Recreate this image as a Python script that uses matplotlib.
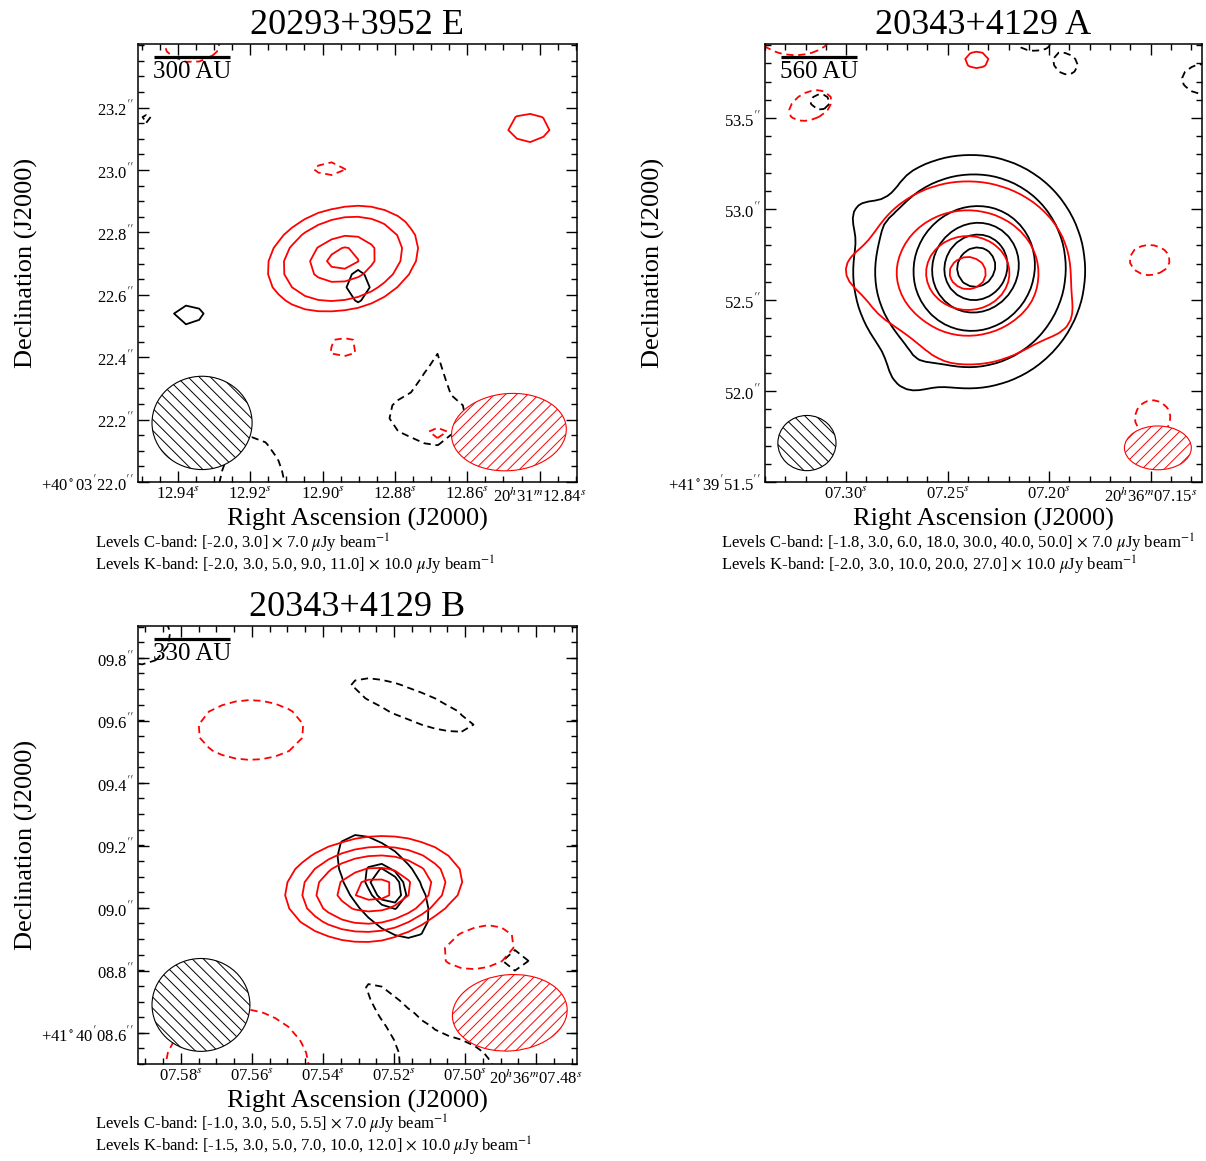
import numpy as np
import matplotlib
matplotlib.use('Agg')
import matplotlib.pyplot as plt
from matplotlib.patches import Ellipse

plt.rcParams['font.family'] = ['Liberation Serif', 'DejaVu Serif']
plt.rcParams['mathtext.fontset'] = 'stix'
plt.rcParams['hatch.linewidth'] = 0.7

# ---------------- data ----------------
# components: RA (s), Dec (arcsec), peak (x rms), sigma_x, sigma_y (arcsec), PA (deg)

# 20293+3952 E
E_title = '20293+3952 E'
E_scale = '300 AU'
E_C_levels = [-2.0, 3.0]
E_C_rms = 7.0
E_K_levels = [-2.0, 3.0, 5.0, 9.0, 11.0]
E_K_rms = 10.0
E_C_comps = [
    (12.9366, 22.5352, 3.6, 0.095, 0.068, 0),
    (12.8902, 22.6282, 3.6, 0.066, 0.090, 0),
    (12.9485, 23.1570, -2.4, 0.045, 0.035, 0),
    (12.9195, 21.9263, -2.6, 0.153, 0.300, 0),
    (12.8709, 22.2147, -2.8, 0.147, 0.098, 0),
    (12.8695, 22.3590, -2.3, 0.020, 0.130, 0),
]
E_K_comps = [
    (12.8944, 22.7147, 11.8, 0.146, 0.099, 15),
    (12.8430, 23.1346, 4.0, 0.089, 0.061, 0),
    (12.8979, 23.0000, -2.8, 0.070, 0.040, 0),
    (12.8944, 22.4391, -2.9, 0.075, 0.045, 0),
    (12.9361, 23.4166, -2.6, 0.130, 0.100, 0),
    (12.8681, 22.1538, -2.5, 0.054, 0.035, 0),
]
E_ra_lim = (12.9510, 12.8297)
E_dec_lim = (22.0, 23.404)
E_dec_deg = 40.056
E_ra_ticks = [12.94, 12.92, 12.90, 12.88, 12.86, 12.84]
E_dec_ticks = [22.0, 22.2, 22.4, 22.6, 22.8, 23.0, 23.2]
E_ra_prefix = '20$^h$31$^m$'
E_dec_prefix = "+40$^\\circ$03$'$"

# 20343+4129 A
A_title = '20343+4129 A'
A_scale = '560 AU'
A_C_levels = [-1.8, 3.0, 6.0, 18.0, 30.0, 40.0, 50.0]
A_C_rms = 7.0
A_K_levels = [-2.0, 3.0, 10.0, 20.0, 27.0]
A_K_rms = 10.0
A_C_comps = [
    (7.2352, 52.6869, 36.6, 0.170, 0.185, -30),
    (7.2396, 52.6540, 20.9, 0.323, 0.323, 0),
    (7.2693, 52.0880, 2.0, 0.090, 0.090, 0),
    (7.2903, 52.9837, 1.8, 0.080, 0.080, 0),
    (7.2854, 53.1320, -1.5, 0.080, 0.080, 0),
    (7.3127, 53.5881, -2.3, 0.078, 0.063, 0),
    (7.2084, 53.9398, -2.3, 0.140, 0.100, 0),
    (7.1909, 53.7859, -2.3, 0.070, 0.060, 0),
    (7.1227, 53.7145, -2.3, 0.190, 0.120, 0),
]
A_K_comps = [
    (7.2401, 52.6485, 29.0, 0.267, 0.236, 0),
    (7.2766, 52.1980, -3.0, 0.120, 0.120, 0),
    (7.2961, 52.6650, 2.0, 0.100, 0.100, 0),
    (7.1938, 52.3900, 1.5, 0.100, 0.100, 0),
    (7.2357, 53.8189, 3.6, 0.109, 0.077, 0),
    (7.3253, 53.9837, -2.6, 0.300, 0.190, 0),
    (7.3180, 53.5551, -2.6, 0.143, 0.083, 20),
    (7.1510, 52.7199, -2.6, 0.162, 0.118, 0),
    (7.1490, 51.8517, -2.6, 0.136, 0.136, 0),
]
A_ra_lim = (7.3375, 7.1247)
A_dec_lim = (51.5, 53.907)
A_dec_deg = 41.664
A_ra_ticks = [7.30, 7.25, 7.20, 7.15]
A_dec_ticks = [51.5, 52.0, 52.5, 53.0, 53.5]
A_ra_prefix = '20$^h$36$^m$'
A_dec_prefix = "+41$^\\circ$39$'$"

# 20343+4129 B
B_title = '20343+4129 B'
B_scale = '330 AU'
B_C_levels = [-1.0, 3.0, 5.0, 5.5]
B_C_rms = 7.0
B_K_levels = [-1.5, 3.0, 5.0, 7.0, 10.0, 12.0]
B_K_rms = 10.0
B_C_comps = [
    (7.5231, 9.0672, 4.6, 0.213, 0.105, -52),
    (7.5217, 9.0736, 2.0, 0.060, 0.045, -52),
    (7.5149, 9.6496, -1.5, 0.237, 0.054, -22),
    (7.5637, 9.6208, -1.15, 0.015, 0.036, 0),
    (7.4862, 8.8336, -1.5, 0.049, 0.041, 0),
    (7.5048, 8.4336, -1.5, 0.175, 0.195, 0),
    (7.5225, 8.7056, -1.4, 0.135, 0.040, -50),
    (7.5915, 9.8736, -1.5, 0.105, 0.105, 0),
]
B_K_comps = [
    (7.5256, 9.0576, 13.0, 0.167, 0.099, 5),
    (7.5603, 9.5696, -2.0, 0.221, 0.127, 0),
    (7.4986, 8.8944, -2.7, 0.133, 0.084, 0),
    (7.5642, 8.4816, -2.0, 0.300, 0.260, 0),
]
B_ra_lim = (7.5921, 7.4685)
B_dec_lim = (8.5008, 9.9024)
B_dec_deg = 41.669
B_ra_ticks = [7.58, 7.56, 7.54, 7.52, 7.50, 7.48]
B_dec_ticks = [8.6, 8.8, 9.0, 9.2, 9.4, 9.6, 9.8]
B_ra_prefix = '20$^h$36$^m$'
B_dec_prefix = "+41$^\\circ$40$'$"


def make_map(comps, ra_lim, dec_lim, dec_deg, step):
    c = 15 * np.cos(np.radians(dec_deg))
    ra = np.arange(ra_lim[1] - 0.02, ra_lim[0] + 0.02, step / c)
    dec = np.arange(dec_lim[0] - 0.3, dec_lim[1] + 0.3, step)
    RA, DEC = np.meshgrid(ra, dec)
    z = np.zeros_like(RA)
    for ra0, de0, amp, sx, sy, pa in comps:
        u = (ra0 - RA) * c
        v = DEC - de0
        t = np.radians(pa)
        a = u * np.cos(t) + v * np.sin(t)
        b = -u * np.sin(t) + v * np.cos(t)
        z += amp * np.exp(-0.5 * ((a / sx) ** 2 + (b / sy) ** 2))
    return RA, DEC, z


def level_text(band, levels, rms):
    s = ', '.join('%.1f' % l for l in levels)
    return 'Levels %s: [%s] $\\times$ %.1f $\\mu$Jy beam$^{-1}$' % (band, s, rms)


def panel(rect, title, scale, C_comps, C_levels, C_rms, K_comps, K_levels, K_rms,
          ra_lim, dec_lim, dec_deg, ra_ticks, dec_ticks, ra_prefix, dec_prefix,
          ra_minor, dec_minor, step, beamC, beamK, txt_xy):
    ax = fig.add_axes(rect)
    for comps, levels, rms, col in [(C_comps, C_levels, C_rms, 'black'),
                                    (K_comps, K_levels, K_rms, 'red')]:
        RA, DEC, z = make_map(comps, ra_lim, dec_lim, dec_deg, step)
        ls = [(0, (4, 2.6)) if l < 0 else 'solid' for l in levels]
        ax.contour(RA, DEC, z * rms, levels=np.array(levels) * rms,
                   colors=col, linewidths=1.3, linestyles=ls, zorder=2)
    ax.set_xlim(ra_lim)
    ax.set_ylim(dec_lim)

    # beams
    ax.add_patch(Ellipse(beamC[:2], beamC[2], beamC[3], angle=beamC[4],
                         transform=ax.transAxes, facecolor='white',
                         edgecolor='black', hatch='\\\\\\', lw=0.8, zorder=4))
    ax.add_patch(Ellipse(beamK[:2], beamK[2], beamK[3], angle=beamK[4],
                         transform=ax.transAxes, facecolor='white',
                         edgecolor='red', hatch='///', lw=0.8, zorder=4))

    # scale bar
    ax.plot([0.036, 0.21], [0.970, 0.970], color='black', lw=2.3,
            transform=ax.transAxes, zorder=5, solid_capstyle='butt')
    ax.text(0.123, 0.936, scale, transform=ax.transAxes, ha='center',
            va='center', fontsize=18, zorder=5)

    # ticks
    xl = ['%05.2f$^s$' % t for t in ra_ticks]
    xl[-1] = ra_prefix + xl[-1]
    yl = ["%04.1f$''$" % t for t in dec_ticks]
    yl[0] = dec_prefix + yl[0]
    ax.set_xticks(ra_ticks)
    ax.set_xticklabels(xl)
    ax.set_yticks(dec_ticks)
    ax.set_yticklabels(yl)
    ax.set_xticks(np.arange(ra_lim[1], ra_lim[0], ra_minor) // ra_minor * ra_minor + ra_minor, minor=True)
    ax.set_yticks(np.arange(dec_lim[0], dec_lim[1], dec_minor), minor=True)
    ax.tick_params(which='both', direction='in', top=True, right=True,
                   labelsize=12, pad=3, width=1.0)
    ax.tick_params(which='major', length=8)
    ax.tick_params(which='minor', length=4)
    for sp in ax.spines.values():
        sp.set_linewidth(1.1)

    ax.set_title(title, fontsize=26, pad=7)
    ax.set_xlabel('Right Ascension (J2000)', fontsize=19)
    ax.set_ylabel('Declination (J2000)', fontsize=19)
    ax.xaxis.set_label_coords(0.5, -0.058)
    ax.yaxis.set_label_coords(-0.228, 0.5)

    fig.text(txt_xy[0], txt_xy[1], level_text('C-band', C_levels, C_rms),
             fontsize=12, va='center')
    fig.text(txt_xy[0], txt_xy[2], level_text('K-band', K_levels, K_rms),
             fontsize=12, va='center')
    return ax


fig = plt.figure(figsize=(12.06, 11.61), dpi=100)

panel([0.1144, 0.5848, 0.3640, 0.3773], E_title, E_scale,
      E_C_comps, E_C_levels, E_C_rms, E_K_comps, E_K_levels, E_K_rms,
      E_ra_lim, E_dec_lim, E_dec_deg, E_ra_ticks, E_dec_ticks,
      E_ra_prefix, E_dec_prefix, 0.005, 0.05, 0.042,
      (0.146, 0.135, 0.228, 0.213, 0), (0.845, 0.114, 0.262, 0.176, 5),
      (0.0788, 0.5323, 0.5134))

panel([0.6343, 0.5848, 0.3624, 0.3773], A_title, A_scale,
      A_C_comps, A_C_levels, A_C_rms, A_K_comps, A_K_levels, A_K_rms,
      A_ra_lim, A_dec_lim, A_dec_deg, A_ra_ticks, A_dec_ticks,
      A_ra_prefix, A_dec_prefix, 0.01, 0.1, 0.035,
      (0.096, 0.089, 0.133, 0.126, 0), (0.899, 0.078, 0.153, 0.100, 0),
      (0.5978, 0.5323, 0.5134))

panel([0.1144, 0.0835, 0.3640, 0.3773], B_title, B_scale,
      B_C_comps, B_C_levels, B_C_rms, B_K_comps, B_K_levels, B_K_rms,
      B_ra_lim, B_dec_lim, B_dec_deg, B_ra_ticks, B_dec_ticks,
      B_ra_prefix, B_dec_prefix, 0.005, 0.05, 0.042,
      (0.1435, 0.135, 0.223, 0.212, 0), (0.847, 0.117, 0.262, 0.174, 5),
      (0.0788, 0.0319, 0.0129))

fig.savefig('out.png', dpi=100)
